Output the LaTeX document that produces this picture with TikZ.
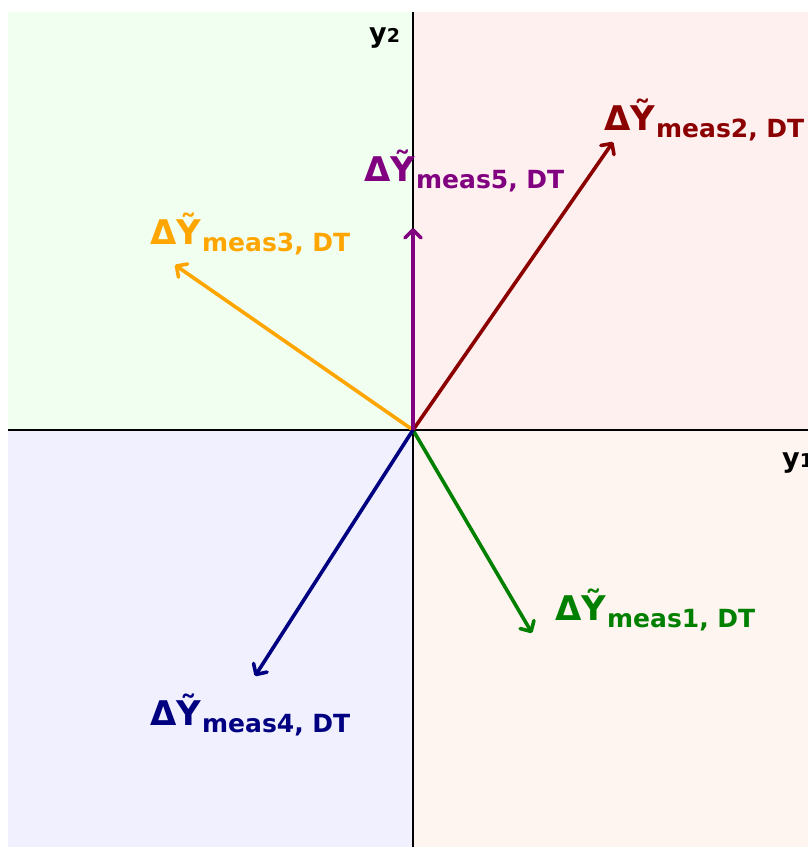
\documentclass[tikz,border=0pt]{standalone}
\usepackage{fontspec}
\setmainfont{DejaVu Sans}
\usetikzlibrary{arrows.meta}
\definecolor{qgreen}{rgb}{0.94,1,0.94}
\definecolor{qred}{rgb}{1,0.94,0.94}
\definecolor{qblue}{rgb}{0.94,0.94,1}
\definecolor{qpeach}{rgb}{1,0.96,0.94}
\definecolor{vorange}{rgb}{1,0.647,0}
\definecolor{vdarkred}{rgb}{0.545,0,0}
\definecolor{vpurple}{rgb}{0.5,0,0.5}
\definecolor{vgreen}{rgb}{0,0.5,0}
\definecolor{vnavy}{rgb}{0,0,0.5}
\newcommand{\meas}[1]{{\fontsize{34}{34}\selectfont\bfseries ΔỸ}\kern1pt\raisebox{-7pt}{\fontsize{25}{25}\selectfont\bfseries meas#1, DT}}

\begin{document}
\begin{tikzpicture}[x=1pt,y=-1pt,vec/.style={line width=3.6pt,-{Straight Barb[length=8pt,width=16pt,line cap=round,line join=round]}},lbl/.style={inner sep=0pt,anchor=base west}]
\useasboundingbox (0,0) rectangle (808,847);
\fill[white] (0,0) rectangle (808,847);
\fill[qgreen] (8,12) rectangle (413,430);
\fill[qred] (413,12) rectangle (808,430);
\fill[qblue] (8,430) rectangle (413,847);
\fill[qpeach] (413,430) rectangle (808,847);
\coordinate (O) at (413,430);
\coordinate (ytop) at (413,12);
\coordinate (ybot) at (413,847);
\coordinate (xleft) at (8,430);
\coordinate (xright) at (808,430);
\draw [line width=2pt] (ytop)-- (ybot);
\draw [line width=2pt] (xleft)-- (xright);
\node[lbl] (y2) at (369,42) {\fontsize{27}{27}\selectfont\bfseries y\raisebox{0pt}{\fontsize{19}{19}\selectfont 2}};
\node[lbl] (y1) at (782,467) {\fontsize{27}{27}\selectfont\bfseries y\raisebox{0pt}{\fontsize{19}{19}\selectfont 1}};
% vectors
\coordinate (t1) at (532,633);
\coordinate (t2) at (613,142);
\coordinate (t3) at (175,265);
\coordinate (t4) at (255,676);
\coordinate (t5) at (413,228);
\draw [vec,color=vgreen] (O)-- (t1);
\draw [vec,color=vdarkred] (O)-- (t2);
\draw [vec,color=vorange] (O)-- (t3);
\draw [vec,color=vnavy] (O)-- (t4);
\draw [vec,color=vpurple] (O)-- (t5);
\node[lbl,color=vgreen] (m1) at (555,620) {\meas{1}};
\node[lbl,color=vdarkred] (m2) at (604,130) {\meas{2}};
\node[lbl,color=vorange] (m3) at (150,244) {\meas{3}};
\node[lbl,color=vnavy] (m4) at (150,725) {\meas{4}};
\node[lbl,color=vpurple] (m5) at (364,181) {\meas{5}};
\end{tikzpicture}
\end{document}
